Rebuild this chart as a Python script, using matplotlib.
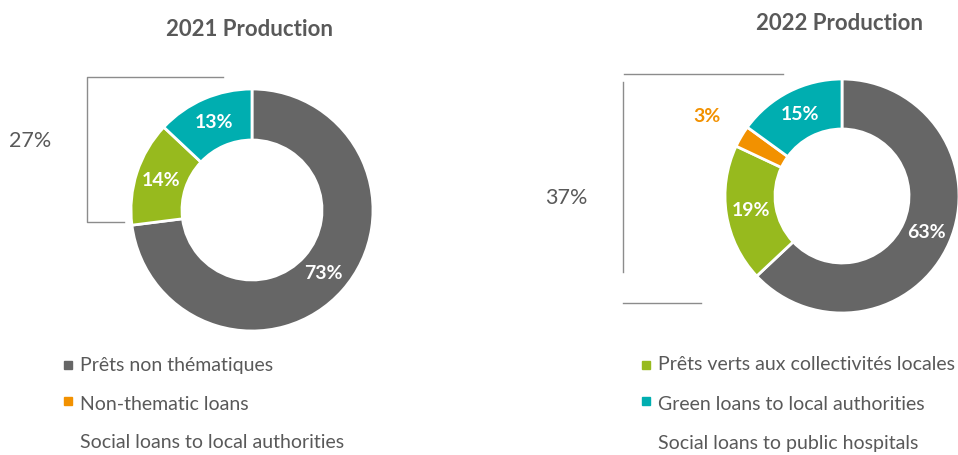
import matplotlib
matplotlib.use("Agg")
import matplotlib.pyplot as plt
import numpy as np

plt.rcParams['font.family'] = ['Lato', 'DejaVu Sans']

W, H = 958, 455

# data
titles = ["2021 Production", "2022 Production"]
shares_2021 = [73, 14, 0, 13]
shares_2022 = [63, 19, 3, 15]
colors = ["#666666", "#97BA1E", "#F29100", "#00AEB0"]
legend_left = ["Prêts non thématiques", "Non-thematic loans", "Social loans to local authorities"]
legend_left_colors = ["#666666", "#F29100", None]
legend_right = ["Prêts verts aux collectivités locales", "Green loans to local authorities",
                "Social loans to public hospitals"]
legend_right_colors = ["#97BA1E", "#00AEB0", None]

TXT = "#595959"
LINE = "#8C8C8C"

fig = plt.figure(figsize=(W / 100, H / 100), dpi=100)
ax = fig.add_axes([0, 0, 1, 1])
ax.set_xlim(0, W)
ax.set_ylim(0, H)
ax.set_aspect('equal')
ax.axis('off')


def Y(y):
    return H - y


def donut(shares, cx, cy, r, r_in):
    vals = [v for v in shares if v > 0]
    cols = [c for v, c in zip(shares, colors) if v > 0]
    wedges, _ = ax.pie(vals, colors=cols, startangle=90, counterclock=False,
                       center=(cx, Y(cy)), radius=r, frame=True,
                       wedgeprops=dict(width=r - r_in, edgecolor='white', linewidth=2))
    rm = (r + r_in) / 2
    for w, v, c in zip(wedges, vals, cols):
        a = np.deg2rad((w.theta1 + w.theta2) / 2)
        if v < 5:
            d, col = r * 1.34, c
        else:
            d, col = rm, 'white'
        ax.text(cx + d * np.cos(a), Y(cy) + d * np.sin(a), f"{v}%", color=col,
                fontsize=14, fontweight='bold', ha='center', va='center')
    return sum(vals) - vals[0]


# 2021
rest = donut(shares_2021, 252, 210, 121, 70)
ax.plot([223, 87, 87, 124], [Y(77), Y(77), Y(222), Y(222)], color=LINE, lw=1)
ax.text(30, Y(141), f"{rest}%", color=TXT, fontsize=15.5, ha='center', va='center')

# 2022
rest = donut(shares_2022, 842, 196, 117, 67)
ax.plot([624, 783], [Y(74), Y(74)], color=LINE, lw=1)
ax.plot([623, 623], [Y(82), Y(272)], color=LINE, lw=1)
ax.plot([623, 701], [Y(303), Y(303)], color=LINE, lw=1)
ax.text(566, Y(198), f"{rest}%", color=TXT, fontsize=15.5, ha='center', va='center')

ax.text(250, Y(29), titles[0], color=TXT, fontsize=16, fontweight='bold', ha='center', va='center')
ax.text(840, Y(24), titles[1], color=TXT, fontsize=16, fontweight='bold', ha='center', va='center')

# legends
rows = [365, 404, 443]
for labels, cols, mx in [(legend_left, legend_left_colors, 68),
                         (legend_right, legend_right_colors, 646)]:
    for lab, c, y in zip(labels, cols, rows):
        if c is not None:
            ax.plot(mx, Y(y - 3 if c in ("#F29100", "#00AEB0") else y), marker='s',
                    ms=5.5, color=c, ls='none')
        ax.text(mx + 12, Y(y), lab, color=TXT, fontsize=14, ha='left', va='center')

ax.set_xlim(0, W)
ax.set_ylim(0, H)
ax.axis('off')
fig.savefig("out.png", dpi=100)
